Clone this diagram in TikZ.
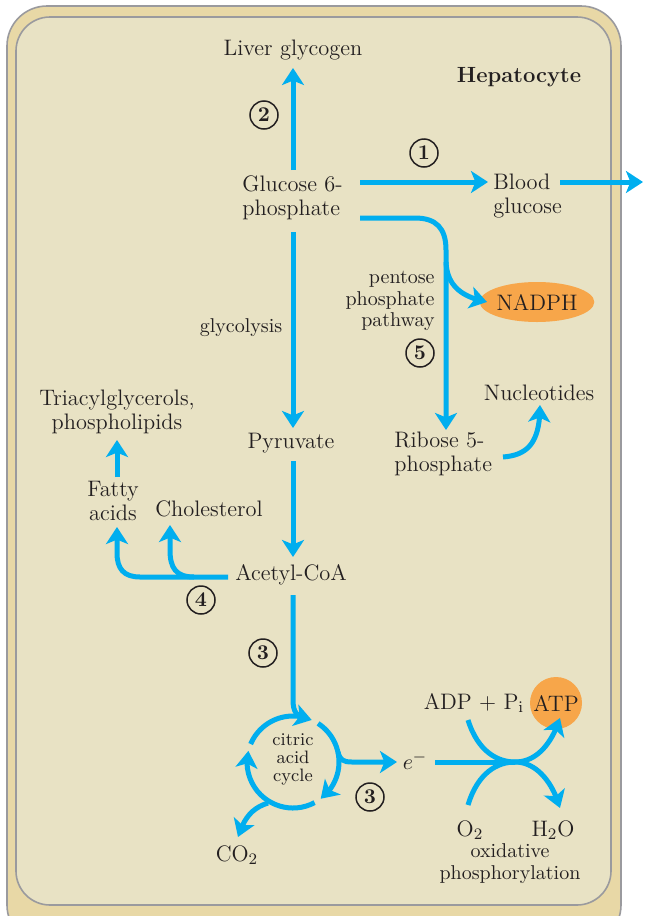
\documentclass[tikz,border=0pt]{standalone}
\usetikzlibrary{arrows.meta,shapes.geometric,bending}
\definecolor{flow}{HTML}{00AEEF}
\definecolor{ink}{HTML}{231F20}
\definecolor{band}{HTML}{E8D8A6}
\definecolor{cell}{HTML}{E8E2C4}
\definecolor{rim}{HTML}{9A9A9E}
\definecolor{orangefill}{HTML}{F7A64A}
\tikzset{
  flowline/.style={draw=flow, line width=2.5pt},
  flowarrow/.style={flowline, -{Stealth[width=11pt,length=8.5pt,inset=2.2pt]}},
  lbl/.style={text=ink, font=\fontsize{11.2}{12}\selectfont, inner sep=0pt},
  smalllbl/.style={text=ink, font=\fontsize{10}{10.8}\selectfont, inner sep=0pt},
  tinylbl/.style={text=ink, font=\fontsize{9}{9}\selectfont, inner sep=0pt},
  stepnum/.style={circle, draw=ink, line width=0.75pt, minimum size=14pt, inner sep=0pt,
                  font=\bfseries\fontsize{10.5}{10.5}\selectfont, text=ink},
}
\begin{document}
\begin{tikzpicture}[x=0.5pt,y=-0.5pt]
\useasboundingbox (0,0) rectangle (644,916);
\clip (0,0) rectangle (644,916);
% cell frame
\draw[draw=rim, line width=0.8pt, fill=band, rounded corners=20pt] (7,6) rectangle (621,945);
\draw[draw=rim, line width=0.8pt, fill=cell, rounded corners=17pt] (16,17) rectangle (611,905);

% text nodes
\node[lbl] (lg) at (293,50) {Liver glycogen};
\node[text=ink, font=\bfseries\fontsize{11}{12}\selectfont, inner sep=0pt] (hep) at (519,77) {Hepatocyte};
\node[lbl, align=left, anchor=west] (g6p) at (242,198) {Glucose 6-\\phosphate};
\node[lbl, align=left, anchor=west] (bg) at (493,196) {Blood\\glucose};
\node[smalllbl, align=right, anchor=east] (ppp) at (435,301) {pentose\\phosphate\\pathway};
\node[ellipse, fill=orangefill, minimum width=51pt, minimum height=20pt, inner sep=0pt,
      text=ink, font=\fontsize{11.2}{12}\selectfont] (nadph) at (537,302) {NADPH};
\node[lbl, align=left, anchor=west] (r5p) at (394,454) {Ribose 5-\\phosphate};
\node[lbl] (nuc) at (539,393) {Nucleotides};
\node[smalllbl] (gly) at (241,328) {glycolysis};
\node[lbl] (pyr) at (291,443) {Pyruvate};
\node[lbl] (acoa) at (291,575) {Acetyl-CoA};
\node[lbl, align=center] (fa) at (113,501) {Fatty\\acids};
\node[lbl] (chol) at (209,509) {Cholesterol};
\node[lbl, align=center] (tag) at (117,412) {Triacylglycerols,\\phospholipids};
\node[tinylbl, align=center] (cac) at (293,759) {citric\\acid\\cycle};
\node[lbl] (elec) at (415,761) {$e^{-}$};
\node[lbl] (co2) at (237,855) {CO$_2$};
\node[lbl] (adp) at (474,703) {ADP + P$_{\mathrm{i}}$};
\node[circle, fill=orangefill, minimum size=26pt, inner sep=0pt, text=ink,
      font=\fontsize{11.2}{12}\selectfont] (atp) at (556,703) {ATP};
\node[lbl] (o2) at (470,830) {O$_2$};
\node[lbl] (h2o) at (553,830) {H$_2$O};
\node[smalllbl, align=center, font=\fontsize{10}{11}\selectfont] (oxp) at (510,864) {oxidative\\phosphorylation};

% step numbers
\node[stepnum] (s1) at (424,153) {1};
\node[stepnum] (s2) at (264,115) {2};
\node[stepnum] (s3a) at (263,653) {3};
\node[stepnum] (s3b) at (370,797) {3};
\node[stepnum] (s4) at (201,600) {4};
\node[stepnum] (s5) at (420,353) {5};

% coordinates for connectors
\coordinate (gUp) at (293,170);
\coordinate (lgIn) at (293,68);
\coordinate (gRight) at (360,182);
\coordinate (bgIn) at (488,182);
\coordinate (bgOut) at (560,182);
\coordinate (blood) at (643,182);
\coordinate (gPent) at (360,218);
\coordinate (r5pIn) at (446,430);
\coordinate (branch) at (446,262);
\coordinate (nadIn) at (487,302);
\coordinate (r5pOut) at (503,457);
\coordinate (nucIn) at (540,405);
\coordinate (gDown) at (293,232);
\coordinate (pyrIn) at (293,428);
\coordinate (pyrOut) at (293,461);
\coordinate (acIn) at (293,557);
\coordinate (acLeft) at (228,577);
\coordinate (faIn) at (117,527);
\coordinate (cholBr) at (194,577);
\coordinate (cholIn) at (170,525);
\coordinate (faOut) at (117,477);
\coordinate (tagIn) at (117,440);
\coordinate (acOut) at (293,595);
\coordinate (tca) at (293,762);
\coordinate (tcaTop) at (306,717.8);
\coordinate (tcaRight) at (338,752);
\coordinate (eIn) at (397,762);
\coordinate (eOut) at (435,762);
\coordinate (tcaBot) at (268,803);
\coordinate (co2In) at (238,837);
\coordinate (adpOut) at (468,720);
\coordinate (mid) at (515,762);
\coordinate (atpIn) at (560,718);
\coordinate (o2Out) at (468,805);
\coordinate (h2oIn) at (560,808);

% connectors
\draw[flowarrow] (gUp) -- (lgIn);
\draw[flowarrow] (gRight) -- (bgIn);
\draw[flowarrow] (bgOut) -- (blood);
\draw[flowarrow] (gPent) -- (415,218) .. controls (436,218) and (446,228) .. (446,250) -- (r5pIn);
\draw[flowarrow] (branch) .. controls (447,286) and (462,297) .. (nadIn);
\draw[flowarrow] (r5pOut) .. controls (530,455) and (540,440) .. (nucIn);
\draw[flowarrow] (gDown) -- (pyrIn);
\draw[flowarrow] (pyrOut) -- (acIn);
\draw[flowarrow] (acLeft) -- (140,577) .. controls (124,577) and (117,569) .. (117,553) -- (faIn);
\draw[flowarrow] (cholBr) .. controls (176,577) and (170,568) .. (170,550) -- (cholIn);
\draw[flowarrow] (faOut) -- (tagIn);
% citric acid cycle
\draw[flowline] (acOut) -- (293,700) .. controls (293,712) and (297,717) .. (tcaTop);
\draw[flowarrow] (tca) ++(157:23pt) arc[start angle=157, end angle=66, radius=23pt];
\draw[flowarrow] (tca) ++(57:23pt) arc[start angle=57, end angle=-53, radius=23pt];
\draw[flowarrow] (tca) ++(-62:23pt) arc[start angle=-62, end angle=-194, radius=23pt];
\draw[flowarrow] (tcaRight) .. controls (340,760) and (343,762) .. (352,762) -- (eIn);
\draw[flowarrow] (tcaBot) .. controls (252,808) and (244,818) .. (co2In);
% oxidative phosphorylation
\draw[flowline] (eOut) -- (mid);
\draw[flowarrow] (adpOut) .. controls (478,752) and (498,762) .. (mid) .. controls (535,762) and (551,746) .. (atpIn);
\draw[flowarrow] (o2Out) .. controls (478,772) and (498,762) .. (mid) .. controls (535,762) and (552,780) .. (h2oIn);
\end{tikzpicture}
\end{document}
